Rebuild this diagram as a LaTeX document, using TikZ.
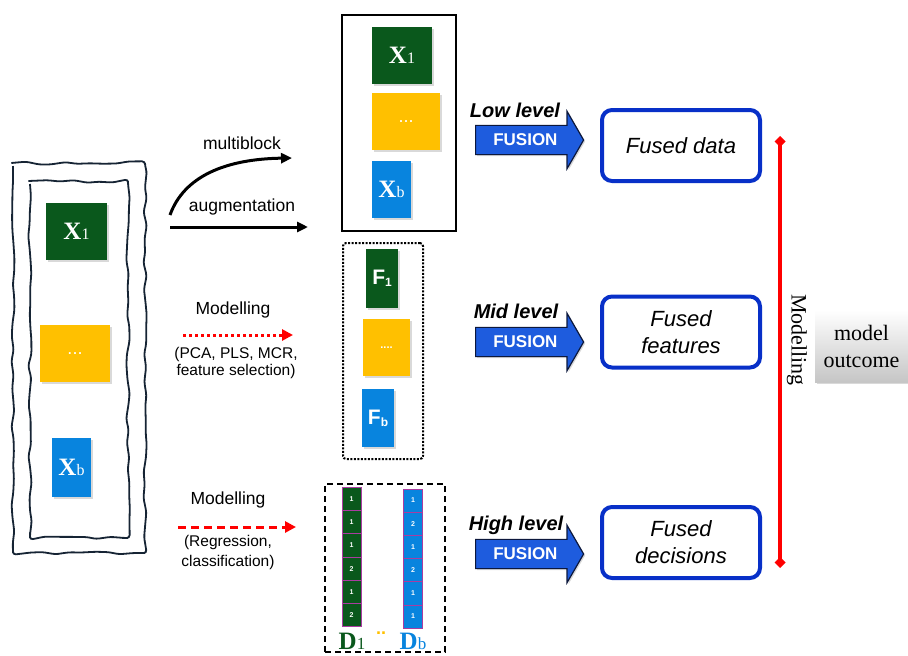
\documentclass[tikz,border=0pt]{standalone}
\usepackage{fontspec}
\setmainfont{Liberation Sans}
\newfontfamily\tmsf{Liberation Serif}
\usetikzlibrary{arrows.meta,shapes.arrows,shadows,decorations.pathmorphing}

\definecolor{blkgreen}{RGB}{10,88,28}
\definecolor{blkyellow}{RGB}{255,192,0}
\definecolor{blkblue}{RGB}{8,132,222}
\definecolor{fusblue}{RGB}{30,92,222}
\definecolor{fusnavy}{RGB}{12,24,60}
\definecolor{boxblue}{RGB}{8,48,200}
\definecolor{cellpink}{RGB}{170,60,160}
\definecolor{framenavy}{RGB}{22,36,52}

\newcommand\fsz[1]{\fontsize{#1}{#1}\selectfont}
\newcommand\Xlbl[1]{{\tmsf\bfseries\fsz{25}X}{\tmsf\fsz{16}#1}}
\newcommand\Flbl[1]{{\bfseries\fsz{21}F}\raisebox{-2pt}{\bfseries\fsz{12}#1}}
\newcommand\Dlbl[1]{{\tmsf\bfseries\fsz{25}D}{\tmsf\fsz{17}#1}}

\begin{document}
\begin{tikzpicture}[
    x=1pt, y=-1pt,
    blk/.style={rectangle, inner sep=0pt, text=white,
                drop shadow={shadow xshift=1.5pt, shadow yshift=-1.5pt, opacity=0.3}},
    gblk/.style={blk, fill=blkgreen},
    yblk/.style={blk, fill=blkyellow},
    bblk/.style={blk, fill=blkblue},
    cell/.style={rectangle, draw=cellpink, line width=0.8pt, minimum width=19pt,
                 minimum height=23.3pt, inner sep=0pt, text=white, font=\bfseries\fsz{7}},
    wavy/.style={draw=framenavy, line width=1.8pt, rounded corners=3pt, decorate,
                 decoration={random steps, segment length=13pt, amplitude=1.8pt}},
    fusarrow/.style={single arrow, draw=fusnavy, line width=1.2pt, fill=fusblue,
                     text=white, font=\bfseries\fsz{17}, minimum height=108pt,
                     single arrow head extend=14pt, single arrow tip angle=120,
                     inner ysep=8pt, inner xsep=4pt, anchor=west,
                     drop shadow={shadow xshift=1.5pt, shadow yshift=-1.5pt, opacity=0.3}},
    lvl/.style={font=\bfseries\itshape\fsz{20}},
    fused/.style={draw=boxblue, line width=4pt, rounded corners=10pt, minimum width=158pt,
                  minimum height=71pt, align=center, inner sep=0pt,
                  font=\itshape\fontsize{22}{27}\selectfont},
    note/.style={font=\fsz{17.5}},
    subnote/.style={align=center},
    blkarr/.style={line width=3pt, -{Triangle[length=11pt,width=10pt]}},
    redarr/.style={red, line width=3pt, -{Triangle[length=11pt,width=11pt]}}
  ]
  \useasboundingbox (0,0) rectangle (908,656);
  \pgfmathsetseed{11}

  % raw data blocks
  \draw[wavy] (13,163) rectangle (145,553);
  \draw[wavy] (30,181) rectangle (128,538);
  \node[gblk, minimum width=61pt, minimum height=57pt] (x1) at (76.5,231.5) {\Xlbl{1}};
  \node[yblk, minimum width=70pt, minimum height=57pt, font=\fsz{18}] (xdots) at (75,353.5) {...};
  \node[bblk, minimum width=39pt, minimum height=59pt] (xb) at (71.5,467.5) {\Xlbl{b}};

  % arrows to the three levels
  \coordinate (mbS) at (170,215);
  \coordinate (mbE) at (292,158);
  \coordinate (augS) at (170,227);
  \coordinate (augE) at (308,227);
  \draw[blkarr] (mbS) .. controls (184,176) and (226,159) .. (mbE);
  \draw[blkarr] (augS) -- (augE);
  \node[note] (mbl) at (242,143) {multiblock};
  \node[note] (augl) at (242,207) {augmentation};

  \coordinate (mdS) at (183,335);
  \coordinate (mdE) at (293,335);
  \draw[redarr, dash pattern=on 3pt off 3pt] (mdS) -- (mdE);
  \node[note] (mdl) at (233,310) {Modelling};
  \node[subnote, font=\fontsize{15.5}{17}\selectfont] (mds) at (236,363) {(PCA, PLS, MCR,\\feature selection)};

  \coordinate (hdS) at (178,527);
  \coordinate (hdE) at (296,527);
  \draw[redarr, dash pattern=on 8pt off 5pt] (hdS) -- (hdE);
  \node[note] (hdl) at (228,500) {Modelling};
  \node[subnote, font=\fontsize{15.5}{20}\selectfont] (hds) at (228,552) {(Regression,\\classification)};

  % low level: concatenated blocks
  \node[draw, line width=2pt, minimum width=114pt, minimum height=216pt, inner sep=0pt] (lowbox) at (399,123) {};
  \node[gblk, minimum width=60pt, minimum height=57pt] (lx1) at (402,55.5) {\Xlbl{1}};
  \node[yblk, minimum width=68pt, minimum height=57pt, font=\fsz{18}] (ldots) at (406,121.5) {...};
  \node[bblk, minimum width=39pt, minimum height=57pt] (lxb) at (391.5,189.5) {\Xlbl{b}};

  % mid level: features
  \node[draw, line width=2pt, dash pattern=on 2pt off 1.5pt, rounded corners=3pt,
        minimum width=80pt, minimum height=216pt, inner sep=0pt] (midbox) at (383,351) {};
  \node[gblk, minimum width=32pt, minimum height=59pt] (f1) at (382,278.5) {\Flbl{1}};
  \node[yblk, minimum width=47pt, minimum height=57pt, font=\bfseries\fsz{11}] (fdots) at (386.5,347.5) {....};
  \node[bblk, minimum width=32pt, minimum height=58pt] (fb) at (378,418) {\Flbl{b}};

  % high level: decisions
  \node[draw, line width=1.8pt, dash pattern=on 6pt off 4pt,
        minimum width=120pt, minimum height=168pt, inner sep=0pt] (highbox) at (385,568) {};
  \foreach \v [count=\i] in {1,1,1,2,1,2}
    \node[cell, fill=blkgreen] (da\i) at (351.5,{475.35+23.3*\i}) {\v};
  \foreach \v [count=\i] in {1,2,1,2,1,1}
    \node[cell, fill=blkblue] (db\i) at (413,{477.35+23.2*\i}) {\v};
  \node[text=blkgreen] (d1) at (352,641) {\Dlbl{1}};
  \node[text=blkyellow, font=\bfseries\fsz{18}] (ddots) at (381,633) {..};
  \node[text=blkblue] (dbl) at (413,641) {\Dlbl{b}};

  % fusion arrows
  \node[fusarrow] (fuslow) at (475,140) {FUSION};
  \node[fusarrow] (fusmid) at (475,342) {FUSION};
  \node[fusarrow] (fushigh) at (475,554) {FUSION};
  \node[lvl] (lowl) at (515,110) {Low level};
  \node[lvl] (midl) at (516,311) {Mid level};
  \node[lvl] (highl) at (516,525) {High level};

  % fused results
  \node[fused] (fdata) at (681,145.5) {Fused data};
  \node[fused] (ffeat) at (681,332) {Fused\\features};
  \node[fused] (fdec) at (681,542.5) {Fused\\decisions};

  % modelling
  \coordinate (mtop) at (780,136);
  \coordinate (mbot) at (780,568);
  \draw[red, line width=3.5pt, {Diamond[length=11pt,width=11pt]}-{Diamond[length=11pt,width=11pt]}] (mtop) -- (mbot);
  \node[rotate=-90, font=\tmsf\fsz{22}] (modl) at (797,340) {Modelling};
  \node[top color=white, bottom color=gray!45, minimum width=93pt, minimum height=72pt,
        align=center, font=\tmsf\fontsize{22}{27}\selectfont, inner sep=0pt,
        drop shadow={shadow xshift=1.5pt, shadow yshift=-1.5pt, opacity=0.3}] (outc) at (861.5,346) {model\\outcome};
\end{tikzpicture}
\end{document}
